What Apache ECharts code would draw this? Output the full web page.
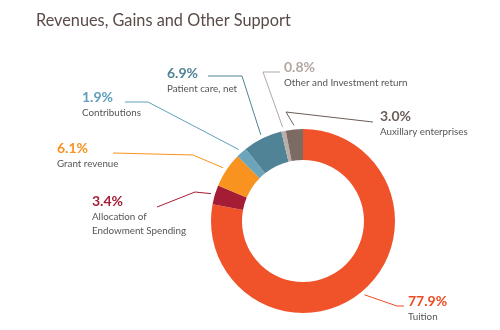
<!DOCTYPE html>
<html>
<head>
<meta charset="utf-8">
<script src="https://cdn.jsdelivr.net/npm/echarts@6/dist/echarts.min.js"></script>
<style>
html,body{margin:0;padding:0;background:#fff;}
#c{width:500px;height:330px;}
</style>
</head>
<body>
<div id="c"></div>
<script>
const categories = ['Tuition', 'Allocation of\nEndowment Spending', 'Grant revenue', 'Contributions', 'Patient care, net', 'Other and Investment return', 'Auxillary enterprises'];
const values = [77.9, 3.4, 6.1, 1.9, 6.9, 0.8, 3.0];
const percentLabels = ['77.9%', '3.4%', '6.1%', '1.9%', '6.9%', '0.8%', '3.0%'];
const colors = ['#f0532a', '#a51d34', '#f7931e', '#6ca4bb', '#4f8395', '#b9afa8', '#7b6b63'];
const pctColors = ['#ef4b23', '#a51d34', '#f7931e', '#5f9fba', '#4f8395', '#b3a8a1', '#6b5d57'];

// label placement (top-left of label block) and leader-line bends
const labelPos = [[408, 293], [92, 193], [57, 140], [82, 89], [167, 65], [284, 59], [380, 108]];
const lineBend = [[[397, 306], [404, 306]], [[195, 192], [157, 207]], [[193, 155], [113, 153]], [[148, 102], [125, 102]], [[242, 76], [208, 76]], [[263, 72], [280, 72]], [[286, 112], [373, 122]]];

const cx = 303, cy = 221, rOut = 92, rIn = 61;

const chart = echarts.init(document.getElementById('c'), null, {renderer: 'canvas'});

const data = values.map((v, i) => ({
  value: v,
  name: categories[i],
  itemStyle: {color: colors[i]},
  label: {
    rich: {
      p: {fontFamily: 'Lato', fontWeight: 'bold', fontSize: 14, color: pctColors[i], lineHeight: 17},
      n: {fontFamily: 'Lato', fontSize: 9.8, color: '#555', lineHeight: 14}
    }
  },
  labelLine: {lineStyle: {color: pctColors[i], width: 1}}
}));

chart.setOption({
  animation: false,
  title: {
    text: 'Revenues, Gains and Other Support',
    left: 31, top: 8,
    textStyle: {fontFamily: 'Lato', fontWeight: 'normal', fontSize: 16.3, color: '#5a4b47'}
  },
  series: [{
    type: 'pie',
    center: [cx, cy],
    radius: [rIn, rOut],
    startAngle: 90,
    clockwise: true,
    avoidLabelOverlap: false,
    label: {
      show: true,
      position: 'outside',
      formatter: p => '{p|' + percentLabels[p.dataIndex] + '}\n{n|' + p.name.split('\n').join('}\n{n|') + '}'
    },
    labelLine: {show: true, length: 10, length2: 10, smooth: false},
    labelLayout: function (params) {
      const i = params.dataIndex;
      const pts = params.labelLinePoints;
      let a = pts && pts[0] ? pts[0] : [cx, cy];
      const dx = a[0] - cx, dy = a[1] - cy;
      const d = Math.sqrt(dx * dx + dy * dy) || 1;
      const start = [cx + dx / d * (rOut + 4), cy + dy / d * (rOut + 4)];
      return {
        x: labelPos[i][0],
        y: labelPos[i][1],
        align: 'left',
        verticalAlign: 'top',
        labelLinePoints: [start, lineBend[i][0], lineBend[i][1]]
      };
    },
    data: data
  }]
});
</script>
</body>
</html>
